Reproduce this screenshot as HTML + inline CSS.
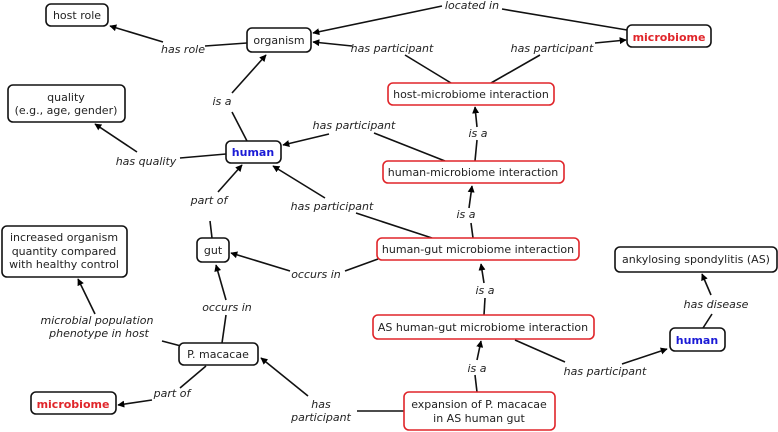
<!DOCTYPE html>
<html><head><meta charset="utf-8"><style>
html,body{margin:0;padding:0;background:#fff;}
svg{display:block;}
text{font-family:"DejaVu Sans","Liberation Sans",sans-serif;font-size:11px;fill:#222;}
.l{font-style:italic;}
.n{fill:#fff;stroke:#111;stroke-width:1.6;}
.r{fill:#fff;stroke:#e0252a;stroke-width:1.6;}
line{stroke:#111;stroke-width:1.6;}
</style></head><body>
<svg width="778" height="432" viewBox="0 0 778 432" xmlns="http://www.w3.org/2000/svg">
<defs><marker id="a" viewBox="0 0 10 10" refX="9" refY="5" markerWidth="7" markerHeight="7" orient="auto" markerUnits="userSpaceOnUse"><path d="M0,0 L10,5 L0,10z" fill="#000"/></marker></defs>
<g>
<!-- 1 has role -->
<line x1="247" y1="43" x2="205" y2="46"/><line x1="163" y1="42" x2="110" y2="26" marker-end="url(#a)"/>
<!-- 2 is a -->
<line x1="247" y1="141" x2="232" y2="112"/><line x1="232" y1="93" x2="266" y2="55" marker-end="url(#a)"/>
<!-- 3 has quality -->
<line x1="226" y1="154" x2="180" y2="158"/><line x1="137" y1="152" x2="95" y2="124" marker-end="url(#a)"/>
<!-- 4 located in -->
<line x1="627" y1="30" x2="502" y2="9"/><line x1="442" y1="6" x2="313" y2="33" marker-end="url(#a)"/>
<!-- 5 has participant -->
<line x1="451" y1="83" x2="405" y2="55"/><line x1="352" y1="46" x2="313" y2="42" marker-end="url(#a)"/>
<!-- 6 has participant -->
<line x1="491" y1="83" x2="540" y2="55"/><line x1="595" y1="43" x2="626" y2="40" marker-end="url(#a)"/>
<!-- 7 is a -->
<line x1="475" y1="161" x2="477" y2="140"/><line x1="477" y1="127" x2="475" y2="107" marker-end="url(#a)"/>
<!-- 8 has participant -->
<line x1="445" y1="161" x2="374" y2="133"/><line x1="329" y1="134" x2="283" y2="145" marker-end="url(#a)"/>
<!-- 9 is a -->
<line x1="473" y1="238" x2="471" y2="223"/><line x1="469" y1="208" x2="472" y2="186" marker-end="url(#a)"/>
<!-- 10 has participant -->
<line x1="432" y1="238" x2="356" y2="213"/><line x1="325" y1="198" x2="273" y2="166" marker-end="url(#a)"/>
<!-- 11 occurs in -->
<line x1="378" y1="259" x2="345" y2="271"/><line x1="290" y1="271" x2="231" y2="253" marker-end="url(#a)"/>
<!-- 12 part of -->
<line x1="212" y1="238" x2="210" y2="221"/><line x1="218" y1="192" x2="242" y2="165" marker-end="url(#a)"/>
<!-- 13 is a -->
<line x1="484" y1="315" x2="485" y2="298"/><line x1="484" y1="283" x2="481" y2="264" marker-end="url(#a)"/>
<!-- 14 has participant -->
<line x1="515" y1="340" x2="565" y2="362"/><line x1="622" y1="364" x2="667" y2="349" marker-end="url(#a)"/>
<!-- 15 is a -->
<line x1="477" y1="392" x2="475" y2="375"/><line x1="477" y1="360" x2="481" y2="341" marker-end="url(#a)"/>
<!-- 16 has disease -->
<line x1="703" y1="328" x2="712" y2="314"/><line x1="711" y1="295" x2="702" y2="274" marker-end="url(#a)"/>
<!-- 17 has participant -->
<line x1="404" y1="411" x2="357" y2="411"/><line x1="308" y1="396" x2="261" y2="358" marker-end="url(#a)"/>
<!-- 18 occurs in -->
<line x1="222" y1="343" x2="226" y2="315"/><line x1="226" y1="300" x2="216" y2="265" marker-end="url(#a)"/>
<!-- 19 microbial population -->
<line x1="181" y1="346" x2="162" y2="341"/><line x1="95" y1="314" x2="78" y2="279" marker-end="url(#a)"/>
<!-- 20 part of -->
<line x1="206" y1="366" x2="180" y2="388"/><line x1="152" y1="400" x2="118" y2="405" marker-end="url(#a)"/>
</g>
<!-- labels -->
<g class="l" text-anchor="middle">
<text class="l" x="183" y="53">has role</text>
<text class="l" x="222" y="105">is a</text>
<text class="l" x="146" y="165">has quality</text>
<text class="l" x="472" y="9">located in</text>
<text class="l" x="392" y="52">has participant</text>
<text class="l" x="552" y="52">has participant</text>
<text class="l" x="478" y="137">is a</text>
<text class="l" x="354" y="129">has participant</text>
<text class="l" x="466" y="218">is a</text>
<text class="l" x="332" y="210">has participant</text>
<text class="l" x="316" y="278">occurs in</text>
<text class="l" x="209" y="204">part of</text>
<text class="l" x="485" y="294">is a</text>
<text class="l" x="605" y="375">has participant</text>
<text class="l" x="477" y="372">is a</text>
<text class="l" x="716" y="308">has disease</text>
<text class="l" x="321" y="408">has</text>
<text class="l" x="321" y="421">participant</text>
<text class="l" x="227" y="311">occurs in</text>
<text class="l" x="97" y="324">microbial population</text>
<text class="l" x="99" y="337">phenotype in host</text>
<text class="l" x="172" y="397">part of</text>
</g>
<!-- nodes -->
<g text-anchor="middle">
<rect class="n" x="46" y="4" width="62" height="22" rx="5"/><text x="77" y="19">host role</text>
<rect class="n" x="247" y="28" width="64" height="24" rx="5"/><text x="279" y="44">organism</text>
<rect class="n" x="8" y="85" width="117" height="37" rx="5"/><text x="66" y="101">quality</text><text x="66" y="114">(e.g., age, gender)</text>
<rect class="n" x="226" y="141" width="55" height="22" rx="5"/><text x="253" y="156" style="fill:#1a1ad6;font-weight:bold">human</text>
<rect class="n" x="2" y="226" width="125" height="51" rx="5"/><text x="64" y="241">increased organism</text><text x="64" y="255">quantity compared</text><text x="64" y="268">with healthy control</text>
<rect class="n" x="197" y="238" width="32" height="24" rx="5"/><text x="213" y="254">gut</text>
<rect class="n" x="179" y="343" width="79" height="22" rx="5"/><text x="218" y="358">P. macacae</text>
<rect class="n" x="31" y="392" width="85" height="22" rx="5"/><text x="73" y="408" style="fill:#e0252a;font-weight:bold">microbiome</text>
<rect class="n" x="627" y="25" width="84" height="22" rx="5"/><text x="669" y="41" style="fill:#e0252a;font-weight:bold">microbiome</text>
<rect class="r" x="388" y="83" width="166" height="22" rx="5"/><text x="471" y="98">host-microbiome interaction</text>
<rect class="r" x="383" y="161" width="181" height="22" rx="5"/><text x="473" y="176">human-microbiome interaction</text>
<rect class="r" x="377" y="238" width="202" height="22" rx="5"/><text x="478" y="253">human-gut microbiome interaction</text>
<rect class="r" x="373" y="315" width="221" height="24" rx="5"/><text x="483" y="331">AS human-gut microbiome interaction</text>
<rect class="r" x="404" y="392" width="151" height="38" rx="5"/><text x="479" y="408">expansion of P. macacae</text><text x="479" y="422">in AS human gut</text>
<rect class="n" x="615" y="247" width="162" height="25" rx="5"/><text x="696" y="263">ankylosing spondylitis (AS)</text>
<rect class="n" x="670" y="328" width="55" height="23" rx="5"/><text x="697" y="344" style="fill:#1a1ad6;font-weight:bold">human</text>
</g>
</svg>
</body></html>
